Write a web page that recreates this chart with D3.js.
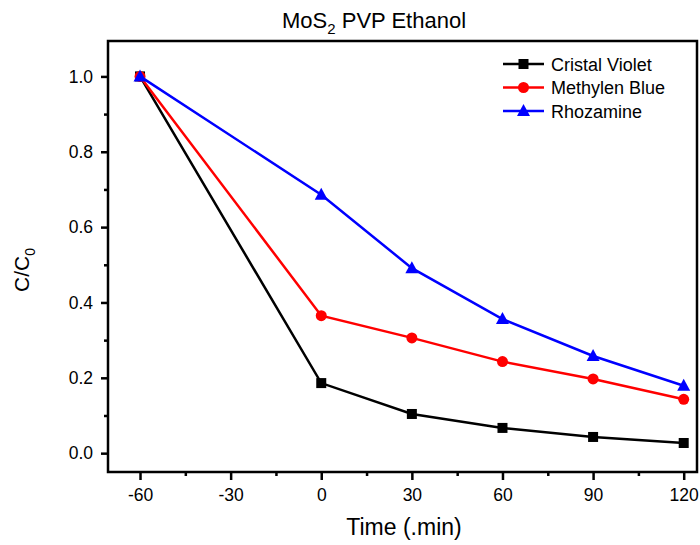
<!DOCTYPE html>
<html>
<head>
<meta charset="utf-8">
<script src="https://cdn.jsdelivr.net/npm/d3@7"></script>
<style>
  body { margin: 0; background: #fff; }
  svg text { font-family: "Liberation Sans", Arial, sans-serif; fill: #000; }
  .axis path, .axis line { stroke: #000; stroke-width: 2.5; }
  .axis text { font-size: 17.5px; }
</style>
</head>
<body>
<div id="display"></div>
<script>
// data
const times = [-60, 0, 30, 60, 90, 120];
const cristalViolet = [1.0, 0.186, 0.104, 0.067, 0.043, 0.027];
const methylenBlue = [1.0, 0.365, 0.306, 0.243, 0.197, 0.143];
const rhozamine = [1.0, 0.686, 0.491, 0.356, 0.258, 0.179];
const seriesNames = ["Cristal Violet", "Methylen Blue", "Rhozamine"];
const xTicks = [-60, -30, 0, 30, 60, 90, 120];
const yTicks = [0.0, 0.2, 0.4, 0.6, 0.8, 1.0];

const width = 700, height = 545;
const plotLeft = 108, plotRight = 697, plotTop = 41, plotBottom = 472;

const svg = d3.select("#display").append("svg")
    .attr("width", width).attr("height", height);

const x_scale = d3.scaleLinear().domain([-70.6, 124.4]).range([plotLeft, plotRight]);
const y_scale = d3.scaleLinear().domain([-0.05, 1.094]).range([plotBottom, plotTop]);

// minor ticks
const gXm = svg.append("g").attr("class", "axis")
    .attr("transform", `translate(0,${plotBottom})`)
    .call(d3.axisBottom(x_scale).tickValues([-45, -15, 15, 45, 75, 105]).tickSize(4).tickFormat(""));
const gYm = svg.append("g").attr("class", "axis")
    .attr("transform", `translate(${plotLeft},0)`)
    .call(d3.axisLeft(y_scale).tickValues([0.1, 0.3, 0.5, 0.7, 0.9]).tickSize(4).tickFormat(""));
gXm.select(".domain").remove();
gYm.select(".domain").remove();

const gX = svg.append("g").attr("class", "axis")
    .attr("transform", `translate(0,${plotBottom})`)
    .call(d3.axisBottom(x_scale).tickValues(xTicks).tickSize(8).tickPadding(9).tickFormat(d => String(d)));
const gY = svg.append("g").attr("class", "axis")
    .attr("transform", `translate(${plotLeft},0)`)
    .call(d3.axisLeft(y_scale).tickValues(yTicks).tickSize(7).tickPadding(8).tickFormat(d => d.toFixed(1)));
gX.select(".domain").remove();
gY.select(".domain").remove();

// frame
svg.append("rect")
    .attr("x", plotLeft).attr("y", plotTop)
    .attr("width", plotRight - plotLeft).attr("height", plotBottom - plotTop)
    .attr("fill", "none").attr("stroke", "#000").attr("stroke-width", 2.5);

const series = [
  { name: seriesNames[0], values: cristalViolet, color: "#000000", shape: "square" },
  { name: seriesNames[1], values: methylenBlue, color: "#ff0000", shape: "circle" },
  { name: seriesNames[2], values: rhozamine, color: "#0000ff", shape: "triangle" }
];

const line = d3.line().x((d, i) => x_scale(times[i])).y(d => y_scale(d));

function marker(g, shape, color, cx, cy) {
  if (shape === "square") {
    g.append("rect").attr("x", cx - 5).attr("y", cy - 5).attr("width", 10).attr("height", 10).attr("fill", color);
  } else if (shape === "circle") {
    g.append("circle").attr("cx", cx).attr("cy", cy).attr("r", 5.5).attr("fill", color);
  } else {
    g.append("path").attr("d", `M${cx},${cy - 7}L${cx + 6.5},${cy + 5}L${cx - 6.5},${cy + 5}Z`).attr("fill", color);
  }
}

series.forEach(s => {
  svg.append("path").attr("d", line(s.values))
    .attr("fill", "none").attr("stroke", s.color).attr("stroke-width", 2.5);
  const g = svg.append("g");
  s.values.forEach((v, i) => marker(g, s.shape, s.color, x_scale(times[i]), y_scale(v)));
});

// legend
series.forEach((s, i) => {
  const ly = 64 + i * 23.5;
  svg.append("line").attr("x1", 503).attr("x2", 544).attr("y1", ly).attr("y2", ly)
    .attr("stroke", s.color).attr("stroke-width", 2.5);
  marker(svg, s.shape, s.color, 523.5, ly);
  svg.append("text").attr("x", 551).attr("y", ly + 6.5).attr("font-size", 18).text(s.name);
});

// title
const title = svg.append("text").attr("x", 282).attr("y", 28)
    .attr("font-size", 22);
title.append("tspan").text("MoS");
title.append("tspan").attr("font-size", 15).attr("dy", 6).text("2");
title.append("tspan").attr("dy", -6).text(" PVP Ethanol");

// axis titles
svg.append("text").attr("x", 404).attr("y", 535)
    .attr("text-anchor", "middle").attr("font-size", 23).text("Time (.min)");

const yl = svg.append("text").attr("transform", "translate(29,270) rotate(-90)")
    .attr("text-anchor", "middle").attr("font-size", 21);
yl.append("tspan").text("C/C");
yl.append("tspan").attr("font-size", 14).attr("dy", 6).text("0");
</script>
</body>
</html>
